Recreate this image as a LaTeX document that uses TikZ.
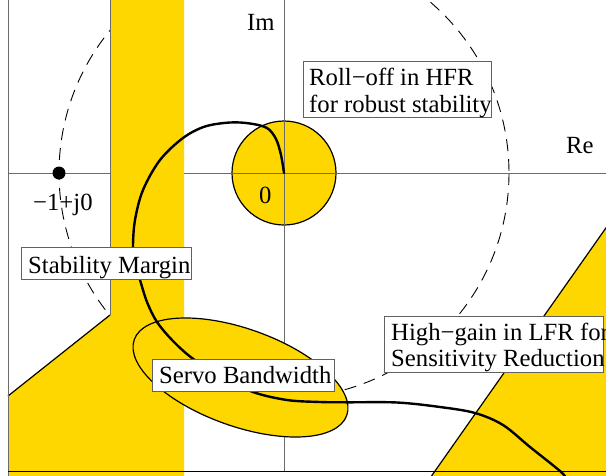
\documentclass[tikz,border=0pt]{standalone}
\usepackage{fontspec}
\setmainfont{Liberation Serif}
\definecolor{gold}{RGB}{255,215,0}
\tikzset{
  axisline/.style={draw=black!58, line width=0.9},
  edge/.style={draw=black, line width=1.2},
  unitcirc/.style={draw=black, line width=0.9, dash pattern=on 12pt off 8pt},
  nyq/.style={draw=black, line width=2.4, line join=round, line cap=round},
  labelbox/.style={draw=black!62, line width=1, fill=white, inner sep=0, anchor=north west},
  txt/.style={inner sep=0, anchor=base west, font=\fontsize{24.7}{27}\selectfont},
}
\begin{document}
\begin{tikzpicture}[x=1pt,y=-1pt]
\useasboundingbox (0,0) rectangle (606,475);
\clip (0,0) rectangle (606,475);
\fill[white] (0,0) rectangle (606,475);

% origin, axes ends
\coordinate (O) at (284,173);
\coordinate (reL) at (8,173);
\coordinate (reR) at (608,173);
\coordinate (imT) at (284,-2);
\coordinate (imB) at (284,471);

% unit circle |L| = 1
\draw[unitcirc] (O) circle [radius=225];

% roll-off disc around the origin
\draw[edge, fill=gold] (O) circle [radius=52];

% axes
\draw[axisline] (reL) -- (reR);
\draw[axisline] (imT) -- (imB);

% stability-margin band
\coordinate (bandTL) at (110,-2);
\coordinate (bandK) at (110,315);
\coordinate (bandF) at (8,396);
\fill[gold] (bandTL) -- (184,-2) -- (184,477) -- (8,477) -- (bandF) -- (bandK) -- cycle;
\draw[axisline] (bandTL) -- (bandK);
\draw[edge] (bandK) -- (bandF);

% high-gain region
\coordinate (triB) at (431.5,476);
\coordinate (triT) at (608,225);
\fill[gold] (triB) -- (triT) -- (610,225) -- (610,477) -- cycle;
\draw[edge] (triB) -- (triT);

% frame
\draw[axisline] (8,-2) -- (8,477);
\draw[black, line width=1] (8,471) -- (608,471);

% servo bandwidth region
\draw[edge, fill=gold, rotate around={-19.65:(240.5,377.5)}]
  (240.5,377.5) ellipse [x radius=112.8, y radius=48.7];

% Nyquist locus
\draw[nyq] plot[smooth, tension=0.55] coordinates {
  (284,173) (281,155) (276,139) (267,128) (250,123.5) (230,122.5)
  (205,126.5) (183,138) (160,160) (143,190) (135,220) (133,247)
  (135,265) (140,280) (147,302) (157,322) (173,341) (192,358)
  (220,376) (253,392) (287,400) (320,402) (347,402.3) (397,402.5)
  (440,407) (475,413) (503,425) (530,447) (560,471) (566,478)};

% critical point
\node[circle, fill=black, inner sep=0, minimum size=13] (crit) at (59,173) {};

% labels
\node[txt] (im) at (247,30) {Im};
\node[txt] (re) at (566,153) {Re};
\node[txt] (zero) at (259,203) {0};
\node[txt] (critlbl) at (33,210) {−1+j0};

\node[labelbox, minimum width=188, minimum height=56] (rollbox) at (303,61) {};
\node[txt] (rolla) at (309,85) {Roll−off in HFR};
\node[txt] (rollb) at (309,112) {for robust stability};

\node[labelbox, minimum width=170, minimum height=32] (stabbox) at (21,247) {};
\node[txt] (stab) at (28,273) {Stability Margin};

\node[labelbox, minimum width=182, minimum height=32] (servobox) at (152,359) {};
\node[txt] (servo) at (159,383) {Servo Bandwidth};

\node[labelbox, minimum width=219, minimum height=56] (highbox) at (384,316) {};
\node[txt] (higha) at (391,340) {High−gain in LFR for};
\node[txt] (highb) at (391,366) {Sensitivity Reduction};
\end{tikzpicture}
\end{document}
